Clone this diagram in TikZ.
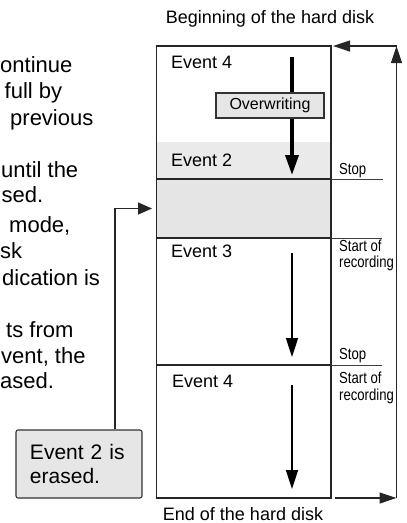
\documentclass[tikz,border=0pt]{standalone}
\usepackage{fontspec}
\setmainfont{Liberation Sans}
\newfontfamily\narrowfont{Liberation Sans}[FakeStretch=0.82]
\usetikzlibrary{arrows.meta,positioning}

\definecolor{bandgrey}{HTML}{EAEAEA}
\definecolor{gapgrey}{HTML}{E5E5E5}
\definecolor{boxgrey}{HTML}{E6E6E6}

\begin{document}
\begin{tikzpicture}[x=1pt, y=-1pt,
    zone/.style={minimum width=174.5pt, inner sep=0pt, outer sep=0pt, anchor=north west},
    frame/.style={line width=1.3pt, black!85},
    tick/.style={line width=1pt, black!75},
    evlabel/.style={anchor=base west, inner sep=0pt, font=\fontsize{18}{21}\selectfont},
    sidelabel/.style={anchor=north west, inner sep=0pt, align=left, font=\narrowfont\fontsize{16}{16.5}\selectfont},
    endlabel/.style={anchor=base, inner sep=0pt, font=\fontsize{18}{21}\selectfont},
    note/.style={anchor=base west, inner sep=0pt, font=\fontsize{22}{26}\selectfont},
    thin/.style={line width=1.6pt, -{Triangle[length=19pt,width=12pt]}},
    loop/.style={line width=1.2pt, black!85, -{Triangle[length=17pt,width=11pt]}},
    heavy/.style={line width=3.5pt, -{Triangle[length=20pt,width=13pt]}},
    owbox/.style={draw=black!80, fill=boxgrey, line width=1.1pt, minimum width=108pt, minimum height=25pt, inner sep=0pt, font=\fontsize{16}{19}\selectfont},
    callout/.style={draw=black!80, fill=boxgrey, line width=1.1pt, rounded corners=2pt, text width=98pt, inner xsep=14pt, minimum height=68pt, align=left, font=\fontsize{21}{23.5}\selectfont}
  ]

  \useasboundingbox (0,0) rectangle (407,523);

  % Cut-off text on the left
  \foreach \nx/\ny/\txt [count=\i] in {0/72/ontinue, 4.5/98/full by, 10/125/previous,
      1/177/until the, 1.5/202/sed., 9/232/{mode,}, 0/258/sk, 2/285/dication is,
      6/337/ts from, 1/363/{vent, the}, 0/388/ased.}
    \node[note] (note\i) at (\nx,\ny) {\txt};

  % Zones of the hard disk, top to bottom
  \node[zone, minimum height=96pt] (top4) at (156.5,46) {};
  \node[zone, minimum height=37pt, fill=bandgrey, below=0pt of top4] (ev2) {};
  \node[zone, minimum height=59pt, fill=gapgrey, below=0pt of ev2] (gap) {};
  \node[zone, minimum height=127pt, below=0pt of gap] (ev3) {};
  \node[zone, minimum height=133pt, below=0pt of ev3] (ev4) {};

  \draw[frame] (top4.north west) rectangle (ev4.south east);
  \foreach \z/\len in {ev2/52, gap/51, ev3/51} {
    \draw[frame] (\z.south west) -- (\z.south east);
    \draw[tick] (\z.south east) -- ++(\len,0);
  }

  % Event names
  \node[evlabel] (lbl4a) at (171,68) {Event 4};
  \node[evlabel] (lbl2) at (171,166) {Event 2};
  \node[evlabel] (lbl3) at (171,257) {Event 3};
  \node[evlabel] (lbl4b) at (172,387) {Event 4};

  % Recording direction
  \def\ax{292}
  \coordinate (ow1) at (\ax,57);
  \coordinate (ow2) at (\ax,175);
  \coordinate (r3a) at (\ax,253);
  \coordinate (r3b) at (\ax,357);
  \coordinate (r4a) at (\ax,385);
  \coordinate (r4b) at (\ax,489);
  \draw[heavy] (ow1) -- (ow2);
  \draw[thin] (r3a) -- (r3b);
  \draw[thin] (r4a) -- (r4b);
  \node[owbox] (ow) at (270,105.5) {Overwriting};

  % Stop / start marks
  \node[sidelabel] (stop1) at (339,163) {Stop};
  \node[sidelabel] (start1) at (339,239.5) {Start of\\recording};
  \node[sidelabel] (stop2) at (339,348) {Stop};
  \node[sidelabel] (start2) at (339,372) {Start of\\recording};

  % Beginning and end
  \node[endlabel] (begin) at (270,23.5) {Beginning of the hard disk};
  \node[endlabel] (end) at (243,520.5) {End of the hard disk};

  \coordinate (loopB) at (396.5,498);
  \coordinate (loopT) at (396.5,46);
  \draw[loop] ([xshift=4pt]ev4.south east) -- (loopB);
  \draw[loop] (loopB) -- (loopT);
  \draw[loop] (loopT) -- ([xshift=2pt]top4.north east);

  % Erased event
  \node[callout] (erased) at (79,464) {Event 2 is\\erased.};
  \draw[loop, -{Triangle[length=14pt,width=12pt]}] ([xshift=36pt]erased.north) |- ([xshift=-4.5pt]gap.west);

\end{tikzpicture}
\end{document}
